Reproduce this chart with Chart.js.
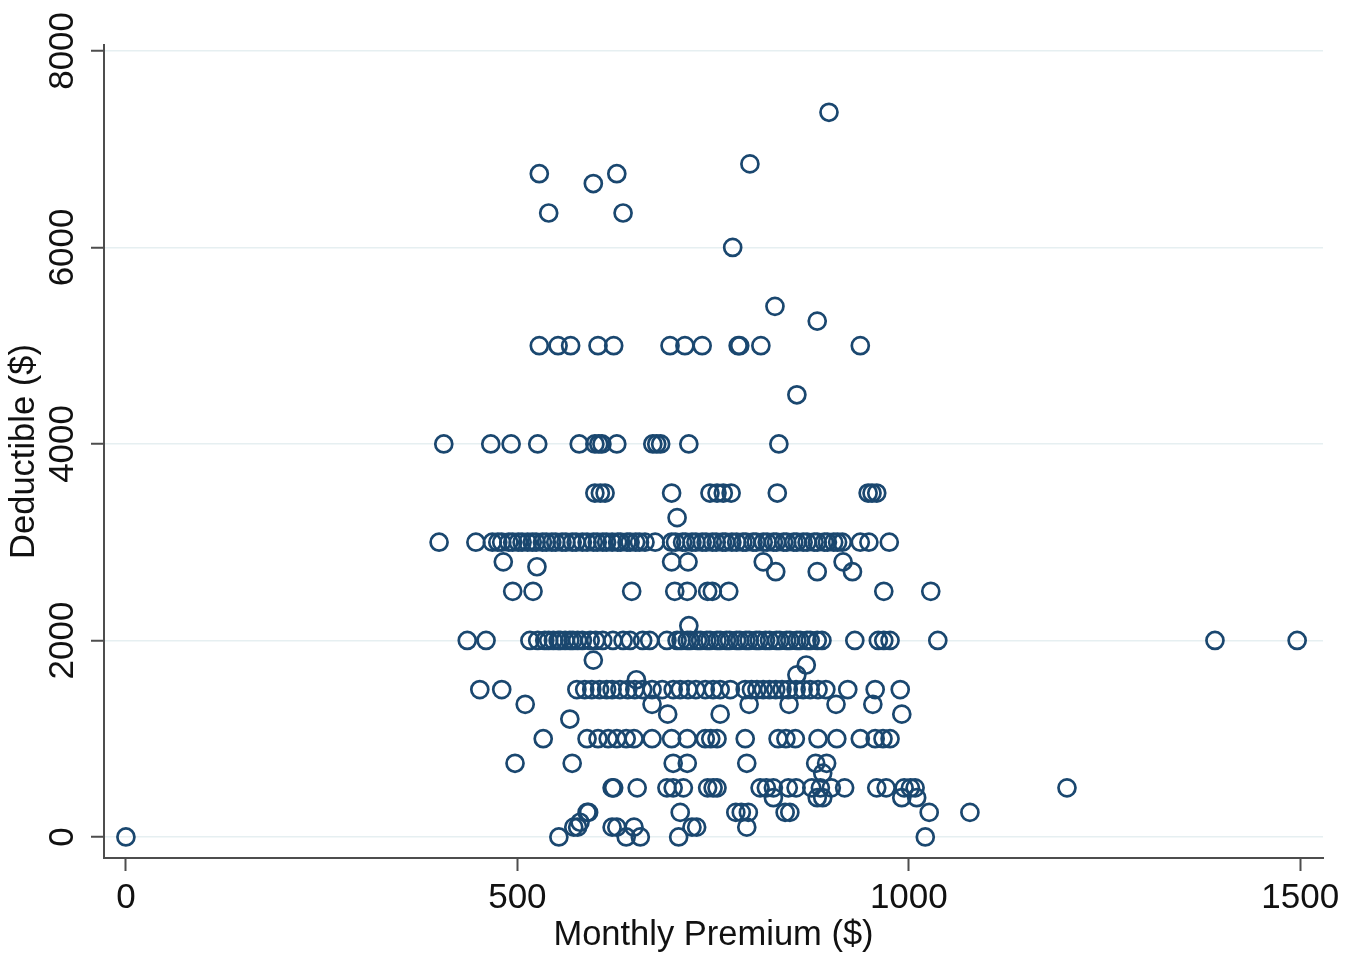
<!DOCTYPE html>
<html lang="en">
<head>
    <meta charset="UTF-8">
    <title>Deductible vs Monthly Premium</title>
    <script src="https://cdn.jsdelivr.net/npm/chart.js"></script>
    <style>
        body { margin: 0; background: #fff; }
        #wrap { width: 1357px; height: 954px; }
    </style>
</head>
<body>

<div id="wrap">
    <canvas id="scatter" width="1357" height="954"></canvas>
</div>

<script>
    // Data: one list of premiums for each deductible level
    const deductibleLevels = [7375, 6850, 6750, 6650, 6350, 6000, 5400, 5250, 5000, 4500,
        4000, 3500, 3250, 3000, 2800, 2750, 2700, 2500, 2150, 2000,
        1800, 1750, 1650, 1600, 1500, 1350, 1250, 1200, 1000, 750,
        650, 500, 400, 250, 150, 100, 0];

    const premiumsAtLevel = [
        [898],
        [797],
        [528, 627],
        [597],
        [540, 635],
        [775],
        [829],
        [883],
        [528, 552, 568, 603, 623, 695, 714, 736, 782, 784, 811, 938],
        [857],
        [406, 466, 492, 526, 579, 599, 604, 608, 627, 673, 678, 683, 719, 834],
        [599, 606, 612, 697, 746, 755, 763, 773, 832, 948, 953, 959],
        [704],
        [400, 447, 468, 475, 480, 489, 494, 501, 506, 513, 519, 524, 532, 537, 544, 549, 557, 562,
         570, 575, 583, 589, 597, 602, 609, 614, 621, 628, 632, 640, 644, 651, 656, 663, 676,
         697, 702, 711, 715, 723, 728, 736, 741, 749, 754, 762, 766, 774, 780, 788, 792, 801,
         805, 814, 819, 827, 831, 840, 844, 853, 857, 865, 870, 879, 883, 892, 896, 904, 909,
         915, 938, 949, 975],
        [482, 697, 718, 814, 916],
        [525],
        [830, 883, 928],
        [494, 520, 646, 701, 717, 743, 749, 770, 968, 1028],
        [719],
        [436, 460, 516, 526, 535, 540, 546, 552, 555, 561, 567, 571, 577, 583, 593, 600, 609,
         622, 635, 644, 660, 669, 691, 704, 709, 717, 721, 730, 734, 742, 746, 755, 759, 767,
         771, 780, 784, 792, 796, 805, 809, 817, 822, 831, 835, 844, 848, 857, 861, 870, 874,
         883, 889, 931, 961, 968, 976, 1037, 1391, 1496],
        [597],
        [869],
        [857],
        [652],
        [452, 480, 576, 586, 595, 605, 614, 621, 631, 641, 650, 660, 672, 685, 699, 708, 718,
         728, 740, 750, 759, 772, 791, 799, 806, 814, 822, 830, 838, 846, 856, 865, 874, 884,
         894, 922, 957, 989],
        [510, 672, 796, 847, 907, 954],
        [692, 759, 991],
        [567],
        [533, 589, 603, 616, 627, 639, 649, 672, 697, 717, 740, 747, 755, 791, 833, 843, 855,
         884, 908, 938, 957, 967, 976],
        [497, 570, 699, 717, 793, 881, 895],
        [890],
        [621, 623, 653, 691, 699, 712, 743, 750, 755, 810, 818, 827, 846, 856, 876, 887, 901,
         918, 959, 971, 994, 1002, 1008, 1202],
        [827, 883, 890, 991, 1010],
        [589, 591, 708, 779, 786, 795, 842, 848, 1026, 1078],
        [580],
        [572, 577, 621, 627, 649, 723, 729, 793],
        [0, 553, 639, 657, 706, 1021]
    ];

    const xTicks = [0, 500, 1000, 1500];
    const yTicks = [0, 2000, 4000, 6000, 8000];

    const points = [];
    deductibleLevels.forEach((d, i) => {
        premiumsAtLevel[i].forEach(p => points.push({x: p, y: d}));
    });

    const navy = '#1a476f';
    const axisGrey = '#4d4d4d';
    const family = "'Liberation Sans', Arial, Helvetica, sans-serif";
    const tickFont = {family: family, size: 35, lineHeight: 1.1};
    const titleFont = {family: family, size: 34.5, lineHeight: 1.1};

    Chart.defaults.font.family = family;
    Chart.defaults.color = '#111';

    new Chart(document.getElementById('scatter'), {
        type: 'scatter',
        data: {
            datasets: [{
                data: points,
                pointStyle: 'circle',
                pointRadius: 8.5,
                pointBorderWidth: 2.7,
                borderColor: navy,
                backgroundColor: 'rgba(0,0,0,0)'
            }]
        },
        options: {
            responsive: false,
            animation: false,
            layout: { padding: { top: 45, right: 34, left: 0, bottom: 0 } },
            plugins: { legend: { display: false }, tooltip: { enabled: false } },
            scales: {
                x: {
                    type: 'linear',
                    min: -28,
                    max: 1529,
                    afterBuildTicks: s => { s.ticks = xTicks.map(v => ({value: v})); },
                    afterFit: s => { s.height = 96; },
                    grid: { drawOnChartArea: false, drawTicks: true, tickLength: 13, tickWidth: 2, tickColor: axisGrey },
                    border: { display: true, color: axisGrey, width: 2 },
                    ticks: { font: tickFont, padding: 8, maxRotation: 0, color: '#111', callback: v => String(v) },
                    title: { display: true, text: 'Monthly Premium ($)', font: titleFont, padding: {top: 0, bottom: 0}, color: '#111' }
                },
                y: {
                    type: 'linear',
                    min: -214,
                    max: 8060,
                    afterBuildTicks: s => { s.ticks = yTicks.map(v => ({value: v})); },
                    afterFit: s => { s.width = 104; },
                    grid: { color: '#e6eff1', lineWidth: 1.5, drawTicks: true, tickLength: 13, tickWidth: 2, tickColor: axisGrey },
                    border: { display: true, color: axisGrey, width: 2 },
                    ticks: { font: tickFont, minRotation: 90, maxRotation: 90, crossAlign: 'center', padding: -11, color: '#111', callback: v => String(v) },
                    title: { display: true, text: 'Deductible ($)', font: titleFont, padding: {top: 6, bottom: 0}, color: '#111' }
                }
            }
        }
    });
</script>

</body>
</html>
